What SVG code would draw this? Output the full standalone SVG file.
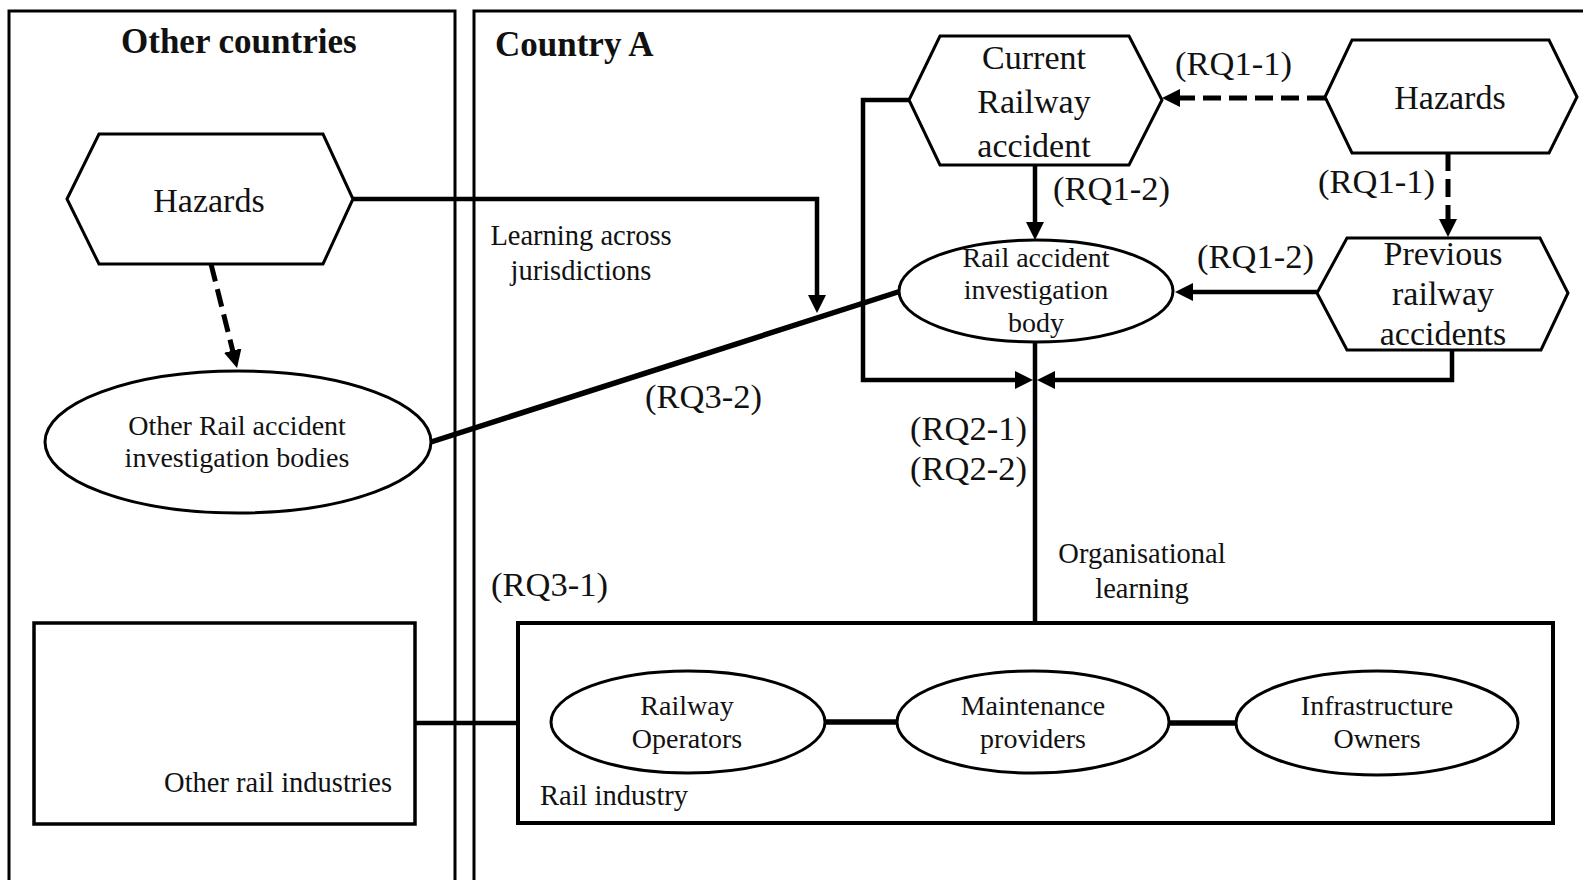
<svg xmlns="http://www.w3.org/2000/svg" width="1583" height="880" viewBox="0 0 1583 880">
  <style>
    text { font-family: "Liberation Serif", "Times New Roman", serif; fill: #111; }
    .title { font-size: 35px; font-weight: bold; }
    .hex-label { font-size: 34px; text-anchor: middle; }
    .node-label { font-size: 28px; text-anchor: middle; }
    .rq { font-size: 34.5px; }
    .note { font-size: 28.5px; }
    .frame { fill: none; stroke: #000; stroke-width: 3; }
    .shape { fill: #fff; stroke: #000; stroke-width: 3; }
    .box { fill: none; stroke: #000; stroke-width: 4; }
    .link { fill: none; stroke: #000; stroke-width: 4.5; }
    .dashed { stroke-dasharray: 18 8; stroke-width: 5; }
    .thick { stroke-width: 5.5; }
  </style>
  <defs>
    <marker id="arrow" viewBox="0 0 18 18" markerUnits="userSpaceOnUse" markerWidth="18" markerHeight="18" refX="10" refY="9" orient="auto">
      <path d="M0,0 L18,9 L0,18 z" fill="#000" stroke="none"/>
    </marker>
  </defs>

  <rect width="1583" height="880" fill="#fff"/>

  <!-- jurisdiction frames -->
  <g id="frame-other-countries">
    <rect class="frame" x="9" y="11" width="446" height="900"/>
    <text class="title" x="121" y="53">Other countries</text>
  </g>
  <g id="frame-country-a">
    <rect class="frame" x="474" y="11" width="1200" height="900"/>
    <text class="title" x="495" y="56">Country A</text>
  </g>

  <!-- connectors -->
  <g id="connectors">
    <path class="link" d="M353,199 H817 V305" marker-end="url(#arrow)"/>
    <path class="link dashed" d="M211,264 L235.1,360.2" marker-end="url(#arrow)"/>
    <path class="link thick" d="M431,442 L901,291"/>
    <path class="link dashed" d="M1325,98 H1170" marker-end="url(#arrow)"/>
    <path class="link dashed" d="M1448,153 V229" marker-end="url(#arrow)"/>
    <path class="link" d="M1035,165 V232" marker-end="url(#arrow)"/>
    <path class="link" d="M1317,292 H1183" marker-end="url(#arrow)"/>
    <path class="link" d="M909,100 H863 V380 H1025" marker-end="url(#arrow)"/>
    <path class="link" d="M1452,350 V380 H1045" marker-end="url(#arrow)"/>
    <path class="link" d="M1035,342 V622"/>
    <path class="link" d="M415,723 H518"/>
    <path class="link thick" d="M825,722 H897"/>
    <path class="link thick" d="M1169,723 H1237"/>
  </g>

  <!-- connector labels -->
  <g id="connector-labels">
    <text class="note" x="581" y="245" text-anchor="middle">Learning across</text>
    <text class="note" x="581" y="280" text-anchor="middle">jurisdictions</text>
    <text class="rq" x="645" y="408">(RQ3-2)</text>
    <text class="rq" x="1175" y="75">(RQ1-1)</text>
    <text class="rq" x="1053" y="200">(RQ1-2)</text>
    <text class="rq" x="1318" y="193">(RQ1-1)</text>
    <text class="rq" x="1197" y="268">(RQ1-2)</text>
    <text class="rq" x="1027" y="440" text-anchor="end">(RQ2-1)</text>
    <text class="rq" x="1027" y="480" text-anchor="end">(RQ2-2)</text>
    <text class="rq" x="491" y="596">(RQ3-1)</text>
    <text class="note" x="1142" y="563" text-anchor="middle">Organisational</text>
    <text class="note" x="1142" y="598" text-anchor="middle">learning</text>
  </g>

  <!-- other countries -->
  <g id="hazards-other">
    <polygon class="shape" points="67,199 99,134 323,134 353,199 323,264 99,264"/>
    <text class="hex-label" x="209" y="212">Hazards</text>
  </g>
  <g id="other-raib">
    <ellipse class="shape" cx="238" cy="442" rx="193" ry="71"/>
    <text class="node-label" x="237" y="435">Other Rail accident</text>
    <text class="node-label" x="237" y="467">investigation bodies</text>
  </g>
  <g id="other-rail-industries">
    <rect class="box" x="34" y="623" width="381" height="201" style="stroke-width:3.5"/>
    <text class="note" x="392" y="792" text-anchor="end">Other rail industries</text>
  </g>

  <!-- country A -->
  <g id="current-accident">
    <polygon class="shape" points="909,100 940,36 1129,36 1162,100 1129,165 940,165"/>
    <text class="hex-label" x="1034" y="69">Current</text>
    <text class="hex-label" x="1034" y="113">Railway</text>
    <text class="hex-label" x="1034" y="157">accident</text>
  </g>
  <g id="hazards-country-a">
    <polygon class="shape" points="1325,97 1352,40 1549,40 1577,97 1549,153 1352,153"/>
    <text class="hex-label" x="1450" y="109">Hazards</text>
  </g>
  <g id="previous-accidents">
    <polygon class="shape" points="1317,293 1347,238 1540,238 1568,293 1541,350 1347,350"/>
    <text class="hex-label" x="1443" y="265">Previous</text>
    <text class="hex-label" x="1443" y="305">railway</text>
    <text class="hex-label" x="1443" y="345">accidents</text>
  </g>
  <g id="raib">
    <ellipse class="shape" cx="1036" cy="291" rx="137" ry="51"/>
    <text class="node-label" x="1036" y="267">Rail accident</text>
    <text class="node-label" x="1036" y="299">investigation</text>
    <text class="node-label" x="1036" y="332">body</text>
  </g>
  <g id="rail-industry">
    <rect class="box" x="518" y="623" width="1035" height="200"/>
    <text class="note" x="540" y="805">Rail industry</text>
  </g>
  <g id="railway-operators">
    <ellipse class="shape" cx="688" cy="722" rx="137" ry="51"/>
    <text class="node-label" x="687" y="715">Railway</text>
    <text class="node-label" x="687" y="748">Operators</text>
  </g>
  <g id="maintenance-providers">
    <ellipse class="shape" cx="1033" cy="722" rx="136" ry="51"/>
    <text class="node-label" x="1033" y="715">Maintenance</text>
    <text class="node-label" x="1033" y="748">providers</text>
  </g>
  <g id="infrastructure-owners">
    <ellipse class="shape" cx="1377" cy="723" rx="141" ry="52"/>
    <text class="node-label" x="1377" y="715">Infrastructure</text>
    <text class="node-label" x="1377" y="748">Owners</text>
  </g>
</svg>
